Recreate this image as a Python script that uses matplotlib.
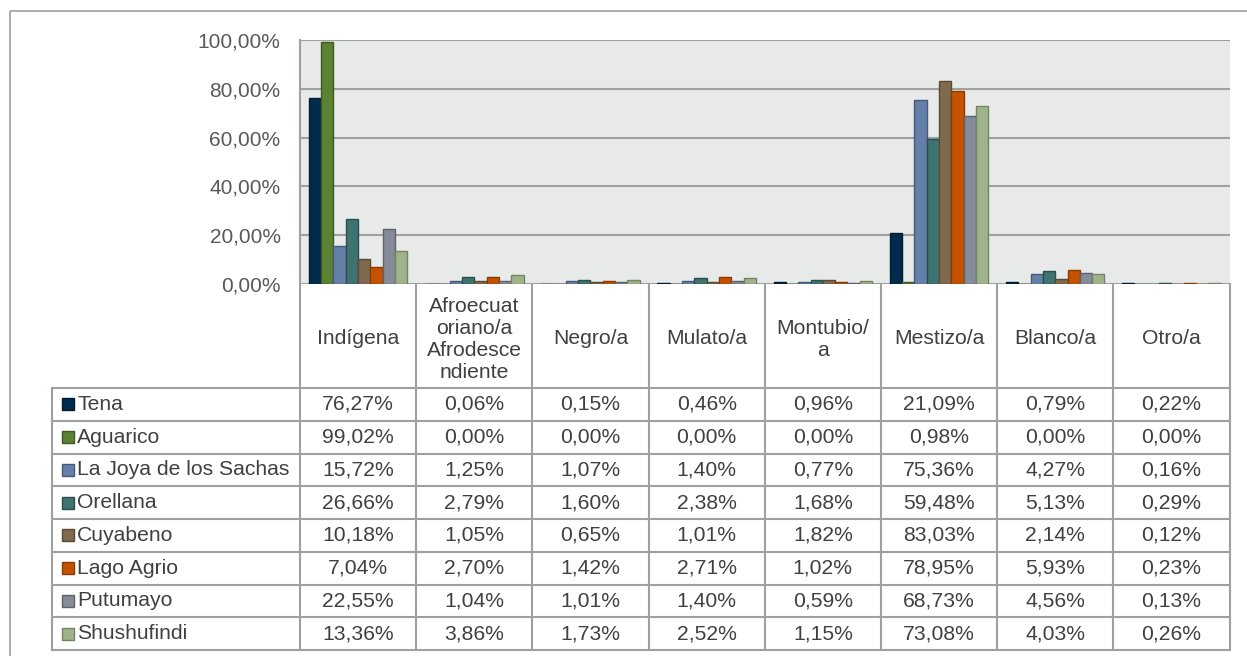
import matplotlib
matplotlib.use("Agg")
import matplotlib.pyplot as plt
from matplotlib.patches import Rectangle
import numpy as np

plt.rcParams['font.family'] = ['Liberation Sans', 'DejaVu Sans']

categories = ['Indígena', 'Afroecuat\noriano/a\nAfrodesce\nndiente', 'Negro/a', 'Mulato/a',
              'Montubio/\na', 'Mestizo/a', 'Blanco/a', 'Otro/a']
series = ['Tena', 'Aguarico', 'La Joya de los Sachas', 'Orellana', 'Cuyabeno',
          'Lago Agrio', 'Putumayo', 'Shushufindi']
tena = [76.27, 0.06, 0.15, 0.46, 0.96, 21.09, 0.79, 0.22]
aguarico = [99.02, 0.00, 0.00, 0.00, 0.00, 0.98, 0.00, 0.00]
la_joya = [15.72, 1.25, 1.07, 1.40, 0.77, 75.36, 4.27, 0.16]
orellana = [26.66, 2.79, 1.60, 2.38, 1.68, 59.48, 5.13, 0.29]
cuyabeno = [10.18, 1.05, 0.65, 1.01, 1.82, 83.03, 2.14, 0.12]
lago_agrio = [7.04, 2.70, 1.42, 2.71, 1.02, 78.95, 5.93, 0.23]
putumayo = [22.55, 1.04, 1.01, 1.40, 0.59, 68.73, 4.56, 0.13]
shushufindi = [13.36, 3.86, 1.73, 2.52, 1.15, 73.08, 4.03, 0.26]
values = [tena, aguarico, la_joya, orellana, cuyabeno, lago_agrio, putumayo, shushufindi]

colors = ['#012B4D', '#5B8133', '#6580A8', '#3E7370', '#806A4F', '#C35300', '#868B98', '#9EB38A']
edges = ['#011D33', '#3E5A22', '#46597A', '#2A4F4D', '#5A4A36', '#8A3A00', '#5E626C', '#738566']

W, H = 1247, 656
fig = plt.figure(figsize=(W / 100, H / 100), dpi=100)

# background layer in pixel coordinates for frame and table
bg = fig.add_axes([0, 0, 1, 1])
bg.set_xlim(0, W)
bg.set_ylim(H, 0)
bg.axis('off')

line_c = '#A0A0A0'
bg.add_patch(Rectangle((10, 11), W + 20, H + 20, fill=False, ec=line_c, lw=1.2))

x0, x1 = 300, 1229.5
y_axis = 284
y_head = 388
row_h = 32.75
lab_x = 52
ncat = len(categories)
col_w = (x1 - x0) / ncat
y_end = y_head + row_h * len(series)

# table lines
for i in range(ncat + 1):
    xx = x0 + i * col_w
    bg.plot([xx, xx], [y_axis, y_end], color=line_c, lw=1.5)
bg.plot([lab_x, lab_x], [y_head, y_end], color=line_c, lw=1.5)
for j in range(len(series) + 1):
    yy = y_head + j * row_h
    bg.plot([lab_x, x1], [yy, yy], color=line_c, lw=1.5)

txt_c = '#404040'
fs = 15.2
for i, cat in enumerate(categories):
    bg.text(x0 + (i + 0.5) * col_w, (y_axis + y_head) / 2 + 3, cat, ha='center', va='center',
            fontsize=fs, color=txt_c, linespacing=1.2)

for j, name in enumerate(series):
    yc = y_head + (j + 0.5) * row_h
    bg.add_patch(Rectangle((62, yc - 6), 12, 12, fc=colors[j], ec=edges[j], lw=1))
    bg.text(77, yc, name, ha='left', va='center', fontsize=fs, color=txt_c)
    for i in range(ncat):
        bg.text(x0 + (i + 0.5) * col_w, yc, f"{values[j][i]:.2f}%".replace('.', ','),
                ha='center', va='center', fontsize=fs, color=txt_c)

# bar chart
y_top = 40
ax = fig.add_axes([x0 / W, 1 - y_axis / H, (x1 - x0) / W, (y_axis - y_top) / H])
ax.set_facecolor('#E8E9E9')
x = np.arange(ncat)
bw = 0.106
for j, name in enumerate(series):
    ax.bar(x + (j - 3.5) * bw, values[j], width=bw, color=colors[j], edgecolor=edges[j], lw=1, zorder=3)
ax.set_xlim(-0.5, ncat - 0.5)
ax.set_ylim(0, 100)
ax.set_yticks([0, 20, 40, 60, 80, 100])
ax.set_yticklabels([f"{v:.2f}%".replace('.', ',') for v in [0, 20, 40, 60, 80, 100]],
                   fontsize=15, color='#595959')
ax.set_xticks([])
ax.tick_params(axis='y', length=0, pad=14)
ax.yaxis.grid(True, color='#A0A0A0', lw=1.5, zorder=1)
for s in ['top', 'right', 'bottom']:
    ax.spines[s].set_visible(False)
ax.spines['left'].set_color(line_c)
ax.spines['left'].set_linewidth(1.5)
ax.set_axisbelow(True)

fig.savefig('out.png', dpi=100)
